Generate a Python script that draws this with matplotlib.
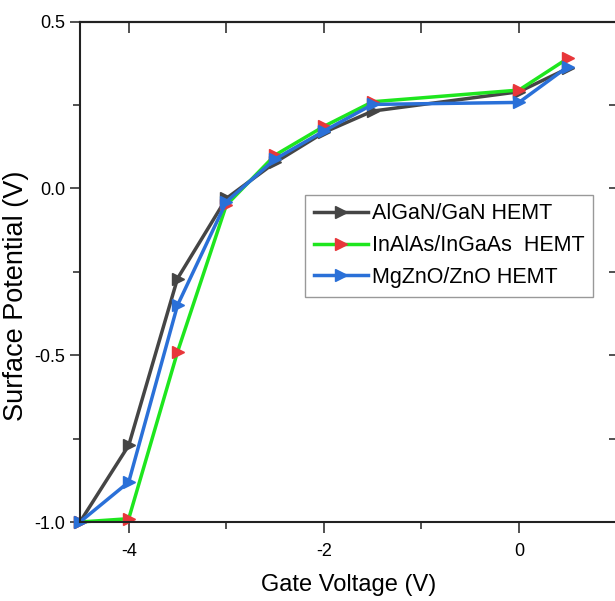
import numpy as np
import matplotlib
matplotlib.use("Agg")
import matplotlib.pyplot as plt
from matplotlib.ticker import MultipleLocator

plt.rcParams['font.family'] = ['Liberation Sans', 'DejaVu Sans']
plt.rcParams['axes.unicode_minus'] = False

# gate voltage (V)
vg = [-4.5, -4.0, -3.5, -3.0, -2.5, -2.0, -1.5, 0.0, 0.5]
# surface potential (V)
algan = [-1.0, -0.77, -0.27, -0.03, 0.078, 0.168, 0.232, 0.29, 0.36]
inalas = [-1.0, -0.99, -0.49, -0.05, 0.10, 0.186, 0.26, 0.295, 0.39]
mgzno = [-1.0, -0.88, -0.35, -0.04, 0.088, 0.172, 0.252, 0.258, 0.365]
labels = ["AlGaN/GaN HEMT", "InAlAs/InGaAs  HEMT", "MgZnO/ZnO HEMT"]

fig = plt.figure(figsize=(6.15, 6.01), dpi=100)
ax = fig.add_axes([0.130, 0.1314, 0.8725, 0.8325])

ax.plot(vg, algan, color="#454545", lw=2.5, marker=">", ms=9, label=labels[0], clip_on=False)
ax.plot(vg, inalas, color="#1ee61e", lw=2.5, marker=">", ms=9, mfc="#e8363a", mec="#e8363a",
        label=labels[1], clip_on=False)
ax.plot(vg, mgzno, color="#2a70d8", lw=2.5, marker=">", ms=9, label=labels[2], clip_on=False)

ax.set_xlim(-4.5, 1.0)
ax.set_ylim(-1.0, 0.5)
ax.xaxis.set_major_locator(MultipleLocator(2))
ax.xaxis.set_minor_locator(MultipleLocator(1))
ax.yaxis.set_major_locator(MultipleLocator(0.5))
ax.yaxis.set_minor_locator(MultipleLocator(0.25))
ax.yaxis.set_major_formatter(plt.FormatStrFormatter("%.1f"))

ax.tick_params(which="both", direction="out", labelsize=13, width=1.2, color="#333333")
ax.tick_params(which="major", length=7)
ax.tick_params(which="minor", length=5)
ax.tick_params(axis="x", which="major", length=8, pad=7)

# mirrored ticks on the top and right pointing inward
top = ax.secondary_xaxis("top")
top.set_xticks([-4, -3, -2, -1, 0])
top.tick_params(direction="in", length=8, width=1.2, labeltop=False, color="#333333")
right = ax.secondary_yaxis("right")
right.set_yticks([0.25, 0.0, -0.25, -0.5, -0.75])
right.tick_params(direction="in", length=6, width=1.2, labelright=False, color="#333333")

for s in ax.spines.values():
    s.set_linewidth(1.5)
    s.set_color("#222222")
top.spines["top"].set_linewidth(1.5)
right.spines["right"].set_linewidth(1.5)

ax.set_xlabel("Gate Voltage (V)", fontsize=17, labelpad=10)
ax.set_ylabel("Surface Potential (V)", fontsize=19.5)
ax.yaxis.set_label_coords(-0.095, 0.452)

leg = ax.legend(loc="upper left", bbox_to_anchor=(0.42, 0.654), fontsize=15.5, handlelength=2.5,
                handletextpad=0.2, labelspacing=0.5, borderpad=0.4, fancybox=False,
                framealpha=1, edgecolor="#999999", borderaxespad=0)
leg.get_frame().set_linewidth(1.0)

fig.savefig("out.png", dpi=100)
